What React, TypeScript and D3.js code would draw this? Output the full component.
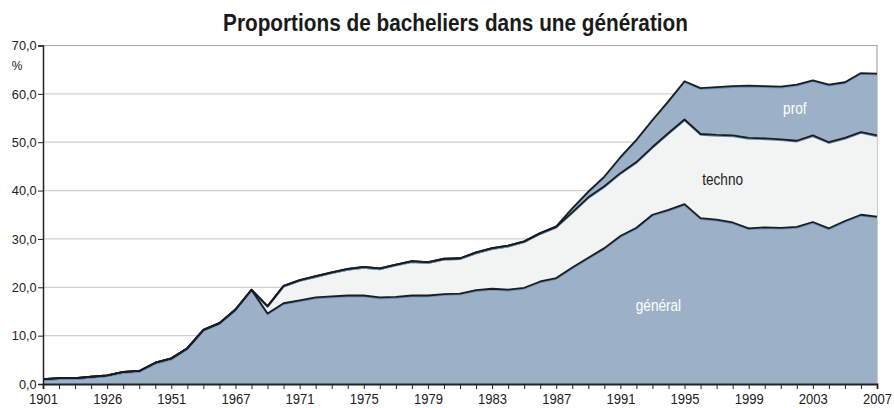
import React, { useEffect, useRef } from "react";
import * as d3 from "d3";

// categories (years) - early years only every few years, then yearly
const years = [
  "1901", "1911", "1916", "1921", "1926", "1931", "1936", "1946", "1951", "1956", "1961", "1966",
  "1967", "1968", "1969", "1970", "1971", "1972", "1973", "1974", "1975", "1976", "1977", "1978",
  "1979", "1980", "1981", "1982", "1983", "1984", "1985", "1986", "1987", "1988", "1989", "1990",
  "1991", "1992", "1993", "1994", "1995", "1996", "1997", "1998", "1999", "2000", "2001", "2002",
  "2003", "2004", "2005", "2006", "2007",
];

// proportion (%) per type of bac
const general = [
  1.0, 1.2, 1.2, 1.5, 1.8, 2.5, 2.7, 4.4, 5.3, 7.4, 11.2, 12.6,
  15.4, 19.5, 14.6, 16.7, 17.3, 17.9, 18.1, 18.3, 18.3, 17.9, 18.0, 18.3,
  18.3, 18.6, 18.7, 19.4, 19.7, 19.5, 19.9, 21.2, 21.9, 24.1, 26.1, 28.1,
  30.6, 32.3, 35.0, 36.0, 37.2, 34.3, 34.0, 33.4, 32.2, 32.4, 32.3, 32.5,
  33.5, 32.2, 33.7, 35.0, 34.6,
];
const techno = [
  0, 0, 0, 0, 0, 0, 0, 0, 0, 0, 0, 0,
  0, 0, 1.5, 3.6, 4.2, 4.4, 5.0, 5.5, 5.9, 6.0, 6.7, 7.1,
  6.9, 7.3, 7.3, 7.8, 8.4, 9.1, 9.6, 10.0, 10.6, 11.4, 12.5, 12.8,
  13.0, 13.6, 14.0, 15.9, 17.5, 17.4, 17.5, 18.0, 18.7, 18.4, 18.3, 17.8,
  17.9, 17.8, 17.2, 17.1, 16.8,
];
const prof = [
  0, 0, 0, 0, 0, 0, 0, 0, 0, 0, 0, 0,
  0, 0, 0, 0, 0, 0, 0, 0, 0, 0, 0, 0,
  0, 0, 0, 0, 0, 0, 0, 0, 0.1, 0.8, 1.2, 2.0,
  3.3, 4.6, 5.6, 6.6, 7.9, 9.5, 9.9, 10.2, 10.8, 10.8, 10.9, 11.6,
  11.4, 11.9, 11.5, 12.2, 12.8,
];

const yTicks = [0, 10, 20, 30, 40, 50, 60, 70];
const keys = ["general", "techno", "prof"];
const labels = { general: "général", techno: "techno", prof: "prof" };

const FONT = "'Liberation Sans', Arial, sans-serif";

function App() {
  const ref = useRef(null);

  useEffect(() => {
    const W = 894;
    const H = 408;
    const left = 43;
    const right = 877;
    const top = 45.5;
    const bottom = 384;

    const svg = d3.select(ref.current).attr("width", W).attr("height", H);
    svg.selectAll("*").remove();

    const rows = years.map((y, i) => ({ year: y, general: general[i], techno: techno[i], prof: prof[i] }));
    const stacked = d3.stack().keys(keys)(rows);

    const x = d3.scalePoint().domain(years).range([left, right]);
    const y = d3.scaleLinear().domain([0, 70]).range([bottom, top]);

    // grid
    svg
      .append("g")
      .selectAll("line")
      .data(yTicks.slice(1, -1))
      .join("line")
      .attr("x1", left)
      .attr("x2", right)
      .attr("y1", (d) => y(d))
      .attr("y2", (d) => y(d))
      .attr("stroke", "#cfcfcf")
      .attr("stroke-width", 1.2);

    // frame top + right
    svg
      .append("path")
      .attr("d", `M${left},${y(70)}H${right}V${bottom}`)
      .attr("fill", "none")
      .attr("stroke", "#a8a8a8")
      .attr("stroke-width", 1.2);

    const fills = { general: "#9cb0c8", techno: "#f2f4f4", prof: "#9cb0c8" };

    const area = d3
      .area()
      .x((d) => x(d.data.year))
      .y0((d) => y(d[0]))
      .y1((d) => y(d[1]));

    svg
      .append("g")
      .selectAll("path")
      .data(stacked)
      .join("path")
      .attr("d", area)
      .attr("fill", (d) => fills[d.key]);

    const line = d3
      .line()
      .x((d) => x(d.data.year))
      .y((d) => y(d[1]));

    // faint blue edge under each outline
    svg
      .append("g")
      .selectAll("path")
      .data(stacked)
      .join("path")
      .attr("d", line)
      .attr("fill", "none")
      .attr("stroke", "#5d8fbf")
      .attr("stroke-width", 1.2)
      .attr("transform", "translate(0,1.2)");

    svg
      .append("g")
      .selectAll("path")
      .data(stacked)
      .join("path")
      .attr("d", line)
      .attr("fill", "none")
      .attr("stroke", "#1c1c1c")
      .attr("stroke-width", 1.8)
      .attr("stroke-linejoin", "round");

    // y axis
    const yAxis = svg
      .append("g")
      .attr("transform", `translate(${left},0)`)
      .call(
        d3
          .axisLeft(y)
          .tickValues(yTicks)
          .tickSize(5)
          .tickFormat((d) => d3.format(".1f")(d).replace(".", ","))
      );
    yAxis.select(".domain").attr("stroke", "#222").attr("stroke-width", 1.5);
    yAxis.selectAll(".tick line").attr("stroke", "#222");
    yAxis
      .selectAll(".tick text")
      .attr("x", -6.5)
      .attr("fill", "#222")
      .style("font-family", FONT)
      .style("font-size", "13px")
      .attr("transform", "scale(0.98,1)");

    // x axis: a tick on every category, a label on every 4th
    const xAxis = svg
      .append("g")
      .attr("transform", `translate(0,${bottom})`)
      .call(
        d3
          .axisBottom(x)
          .tickSize(5)
          .tickFormat((d, i) => (i % 4 === 0 ? d : ""))
      );
    xAxis.select(".domain").attr("stroke", "#222").attr("stroke-width", 1.8);
    xAxis.selectAll(".tick line").attr("stroke", "#222");
    xAxis
      .selectAll(".tick text")
      .attr("y", 20)
      .attr("dy", null)
      .attr("fill", "#222")
      .style("font-family", FONT)
      .style("font-size", "14.5px")
      .attr("transform", "scale(0.9,1)");

    svg
      .append("text")
      .attr("x", 17)
      .attr("y", 70)
      .attr("text-anchor", "middle")
      .attr("fill", "#222")
      .style("font-family", FONT)
      .style("font-size", "12px")
      .text("%");

    // title, squeezed to the condensed width of the original
    const title = svg
      .append("text")
      .attr("x", 0)
      .attr("y", 0)
      .attr("text-anchor", "middle")
      .attr("fill", "#1a1a1a")
      .style("font-family", FONT)
      .style("font-size", "23px")
      .style("font-weight", "bold")
      .text("Proportions de bacheliers dans une génération");
    const tw = title.node().getComputedTextLength() || 465;
    title.attr("transform", `translate(455.5,31) scale(${465 / tw},1)`);

    // area labels
    const areaLabels = [
      { key: "prof", year: "2002", v: 55.8, color: "#ffffff" },
      { key: "techno", year: "1997", v: 41.2, color: "#222" },
      { key: "general", year: "1993", v: 15.0, color: "#ffffff" },
    ];
    svg
      .append("g")
      .selectAll("text")
      .data(areaLabels)
      .join("text")
      .attr("text-anchor", "middle")
      .attr("fill", (d) => d.color)
      .attr("transform", (d) => `translate(${x(d.year) + (d.key === "prof" ? -2 : 6)},${y(d.v)}) scale(0.85,1)`)
      .style("font-family", FONT)
      .style("font-size", "16px")
      .text((d) => labels[d.key]);
  }, []);

  return <svg ref={ref} style={{ position: "absolute", left: 0, top: 0 }} />;
}

export default App;
